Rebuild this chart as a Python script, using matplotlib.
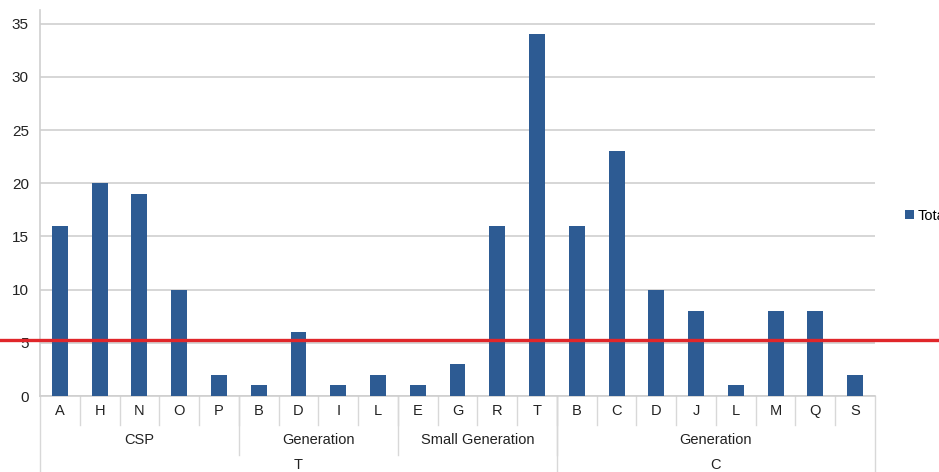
import numpy as np
import matplotlib
matplotlib.use('Agg')
import matplotlib.pyplot as plt
from matplotlib import transforms

plt.rcParams['font.family'] = ['Liberation Sans', 'DejaVu Sans']

# categories, grouped in three levels
cats = ['A', 'H', 'N', 'O', 'P', 'B', 'D', 'I', 'L', 'E', 'G', 'R', 'T',
        'B', 'C', 'D', 'J', 'L', 'M', 'Q', 'S']
totals = [16, 20, 19, 10, 2, 1, 6, 1, 2, 1, 3, 16, 34,
          16, 23, 10, 8, 1, 8, 8, 2]
groups = ['CSP', 'Generation', 'Small Generation', 'Generation']
group_sizes = [5, 4, 4, 8]
tops = ['T', 'C']
top_sizes = [13, 8]
threshold = 5.3

W, H = 939, 472
fig = plt.figure(figsize=(W / 100, H / 100), dpi=100)
ax_l, ax_r, ax_b, ax_t = 40, 875, 396, 10
ax = fig.add_axes([ax_l / W, 1 - ax_b / H, (ax_r - ax_l) / W, (ax_b - ax_t) / H])

txt = '#222222'
fs = 10.5

x = np.arange(len(cats))
ax.bar(x, totals, width=0.4, color='#2d5b93', label='Total', zorder=3)
ax.set_xlim(-0.5, len(cats) - 0.5)
ax.set_ylim(0, 36.3)
ax.set_yticks(range(0, 36, 5))
ax.yaxis.grid(True, color='#cfcfcf', lw=1.2, zorder=0)
ax.set_xticks([])
ax.tick_params(axis='y', length=0, pad=8, labelsize=11, labelcolor=txt)
for s in ['top', 'right']:
    ax.spines[s].set_visible(False)
for s in ['left', 'bottom']:
    ax.spines[s].set_color('#cfcfcf')
    ax.spines[s].set_linewidth(1.2)

ax_h = ax_b - ax_t
trans = transforms.blended_transform_factory(ax.transData, ax.transAxes)


def ypix(p):
    # pixels below the x axis -> axes fraction
    return -p / ax_h


def sep(xpos, depth):
    ax.plot([xpos, xpos], [0, ypix(depth)], transform=trans, color='#d8d8d8',
            lw=1.0, clip_on=False)


# category row
for i, c in enumerate(cats):
    ax.text(i, ypix(15), c, transform=trans, ha='center', va='center',
            fontsize=fs, color=txt)
for i in range(1, len(cats)):
    sep(i - 0.5, 29)

# group row
start = 0
for g, n in zip(groups, group_sizes):
    ax.text(start + n / 2 - 0.5, ypix(44), g, transform=trans, ha='center',
            va='center', fontsize=fs, color=txt)
    start += n
    if start < len(cats):
        sep(start - 0.5, 59)

# top row
start = 0
for t, n in zip(tops, top_sizes):
    ax.text(start + n / 2 - 0.5, ypix(69), t, transform=trans, ha='center',
            va='center', fontsize=fs, color=txt)
    start += n
sep(-0.5, 80)
sep(top_sizes[0] - 0.5, 80)
sep(len(cats) - 0.5, 80)

# threshold line across the full width
ax.axhline(threshold, xmin=-ax_l / (ax_r - ax_l), xmax=(W - ax_l) / (ax_r - ax_l),
           color='#e0262a', lw=2.4, clip_on=False, zorder=5)

ax.legend(loc='center left',
          bbox_to_anchor=((899 - ax_l) / (ax_r - ax_l), 1 - (216 - ax_t) / ax_h),
          frameon=False, handlelength=0.6, handleheight=0.6, handletextpad=0.3,
          borderaxespad=0, fontsize=fs)

fig.savefig('out.png', dpi=100)
